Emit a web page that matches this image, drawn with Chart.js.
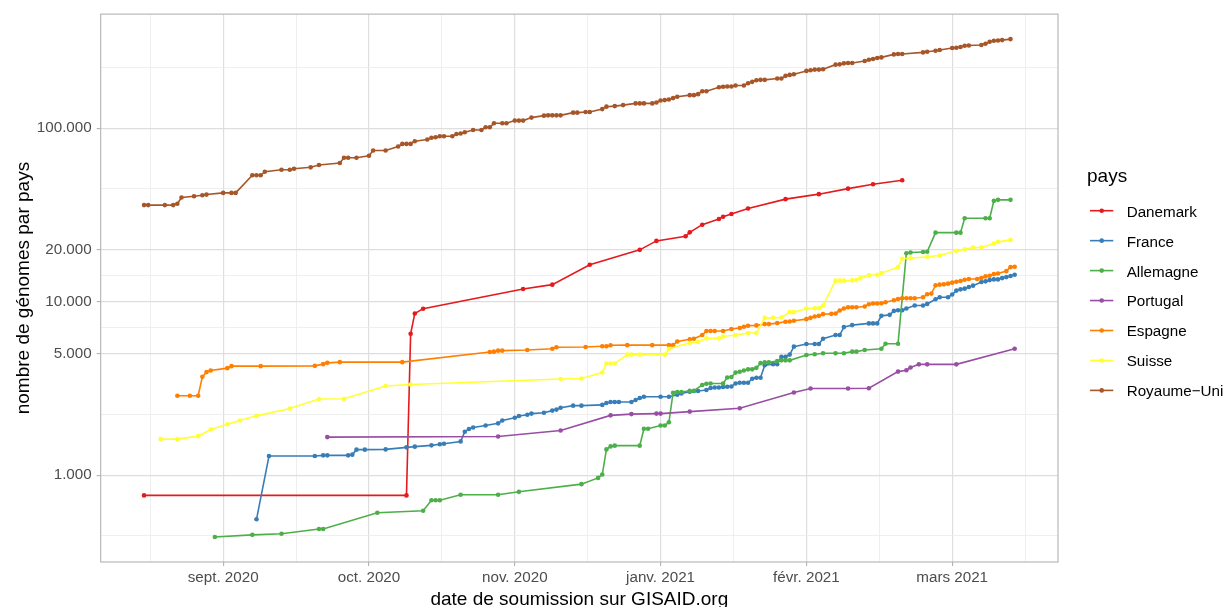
<!DOCTYPE html>
<html>
<head>
<meta charset="utf-8">
<script src="https://cdn.jsdelivr.net/npm/chart.js@4.4.1/dist/chart.umd.min.js"></script>
<style>
  html, body { margin: 0; padding: 0; background: #fff; }
  canvas { display: block; }
</style>
</head>
<body>
<canvas id="genomesChart" width="1225" height="607"></canvas>
<script>
// jours comptés depuis le repère "sept. 2020" de l'axe, nombres cumulés de génomes
const pays = ['Danemark', 'France', 'Allemagne', 'Portugal', 'Espagne', 'Suisse', 'Royaume\u2212Uni'];
const couleurs = ['#E41A1C', '#377EB8', '#4DAF4A', '#984EA3', '#FF7F00', '#FFFF33', '#A65628'];

const joursDanemark = [-19, 44, 45, 46, 48, 72, 79, 88, 100, 104, 111, 112, 115, 119, 120, 122, 126, 135, 143, 150, 156, 163];
const nbDanemark = [765, 765, 6540, 8560, 9120, 11840, 12550, 16340, 19910, 22420, 23840, 25120, 27810, 29990, 30900, 32020, 34470, 39030, 41700, 44880, 47580, 50140];

const joursFrance = [8, 11, 22, 24, 25, 30, 31, 32, 34, 39, 44, 46, 50, 52, 53, 57, 58, 59, 60, 63, 66, 67, 70, 71, 73, 74, 77, 79, 80, 81, 84, 86, 91, 92, 93, 94, 95, 98, 99, 100, 101, 105, 107, 109, 110, 112, 113, 114, 116, 117, 118, 119, 120, 121, 122, 123, 124, 125, 126, 127, 128, 129, 130, 132, 133, 134, 135, 136, 137, 140, 142, 143, 144, 147, 148, 149, 151, 155, 156, 157, 158, 160, 161, 162, 163, 164, 166, 168, 169, 171, 172, 174, 175, 176, 177, 178, 179, 180, 182, 183, 184, 185, 186, 187, 188, 189, 190];
const nbFrance = [557, 1290, 1290, 1302, 1302, 1302, 1314, 1404, 1404, 1409, 1447, 1461, 1486, 1509, 1519, 1566, 1782, 1847, 1884, 1934, 1991, 2066, 2144, 2193, 2231, 2266, 2290, 2357, 2389, 2446, 2518, 2518, 2542, 2610, 2645, 2645, 2645, 2645, 2715, 2788, 2836, 2836, 2836, 2912, 2962, 3029, 3058, 3058, 3098, 3181, 3206, 3206, 3223, 3236, 3249, 3381, 3412, 3412, 3412, 3597, 3645, 3645, 4310, 4367, 4367, 4808, 4808, 4956, 5508, 5706, 5706, 5706, 6120, 6427, 6427, 7143, 7334, 7501, 7501, 7501, 8291, 8401, 8857, 8939, 8939, 9142, 9511, 9511, 9714, 10330, 10610, 10610, 11000, 11590, 11790, 11900, 12150, 12380, 12990, 13110, 13330, 13450, 13450, 13690, 13870, 14060, 14320];

const joursAllemagne = [-2, 7, 14, 23, 24, 37, 48, 50, 51, 52, 57, 66, 71, 86, 90, 91, 92, 93, 94, 100, 101, 102, 105, 106, 107, 108, 109, 110, 112, 113, 115, 116, 117, 120, 121, 122, 123, 124, 125, 126, 127, 128, 129, 130, 131, 133, 134, 135, 136, 140, 142, 144, 147, 149, 151, 152, 154, 158, 159, 162, 164, 165, 168, 169, 171, 176, 177, 178, 183, 184, 185, 186, 189];
const nbAllemagne = [440, 453, 460, 490, 490, 608, 624, 717, 717, 717, 771, 771, 802, 888, 965, 1009, 1409, 1466, 1480, 1480, 1852, 1852, 1934, 1934, 2020, 2989, 3018, 3018, 3070, 3070, 3310, 3367, 3381, 3381, 3660, 3679, 3903, 3945, 4013, 4077, 4077, 4158, 4425, 4472, 4472, 4544, 4592, 4592, 4592, 4936, 4982, 5049, 5049, 5049, 5155, 5155, 5273, 5363, 5730, 5730, 19040, 19220, 19340, 19400, 25020, 25020, 25020, 30300, 30300, 30300, 38160, 38670, 38670];

const joursPortugal = [25, 66, 81, 93, 98, 104, 105, 112, 124, 137, 141, 150, 155, 162, 164, 165, 167, 169, 176, 190];
const nbPortugal = [1658, 1673, 1811, 2213, 2251, 2266, 2266, 2327, 2430, 2998, 3164, 3164, 3170, 3955, 4024, 4175, 4355, 4355, 4355, 5363];

const joursEspagne = [-11, -8, -6, -5, -4, -3, 1, 2, 9, 22, 24, 25, 28, 43, 64, 65, 66, 67, 73, 79, 80, 87, 91, 92, 93, 97, 103, 107, 108, 109, 112, 113, 115, 116, 117, 118, 120, 122, 124, 125, 126, 128, 130, 131, 133, 135, 136, 137, 140, 141, 142, 143, 144, 146, 147, 148, 149, 150, 151, 152, 154, 155, 156, 157, 158, 159, 161, 162, 163, 164, 165, 166, 168, 169, 170, 171, 172, 173, 174, 175, 176, 177, 178, 179, 181, 182, 183, 184, 185, 186, 188, 189, 190];
const nbEspagne = [2874, 2874, 2874, 3693, 3929, 4013, 4142, 4253, 4253, 4270, 4367, 4443, 4484, 4484, 5135, 5155, 5224, 5224, 5273, 5363, 5470, 5485, 5536, 5536, 5610, 5620, 5620, 5620, 5620, 5898, 6081, 6120, 6427, 6776, 6776, 6776, 6776, 6957, 7049, 7171, 7266, 7305, 7432, 7432, 7530, 7660, 7700, 7762, 7938, 8076, 8227, 8291, 8480, 8513, 8558, 8904, 9142, 9301, 9301, 9301, 9387, 9676, 9765, 9765, 9804, 9934, 10200, 10380, 10470, 10470, 10470, 10470, 10610, 11040, 11140, 12430, 12550, 12600, 12710, 12880, 13050, 13160, 13400, 13510, 13510, 13690, 14000, 14130, 14430, 14560, 15010, 15830, 15910];

const joursSuisse = [-15, -11, -6, -3, 1, 4, 8, 16, 23, 29, 39, 45, 81, 86, 91, 92, 93, 94, 97, 98, 100, 106, 107, 112, 114, 116, 119, 120, 123, 126, 128, 130, 132, 134, 136, 137, 140, 142, 143, 144, 147, 148, 149, 151, 152, 153, 155, 157, 158, 162, 163, 165, 169, 172, 176, 178, 180, 182, 185, 186, 189];
const nbSuisse = [1614, 1614, 1680, 1835, 1968, 2066, 2199, 2421, 2751, 2760, 3266, 3336, 3583, 3611, 3908, 4402, 4402, 4402, 4956, 4956, 4956, 4956, 5363, 5806, 5860, 6152, 6152, 6300, 6427, 6600, 6600, 8076, 8076, 8119, 8707, 8707, 9142, 9179, 9179, 9511, 13230, 13230, 13230, 13280, 13330, 13690, 14190, 14320, 14620, 15830, 17690, 17820, 18160, 18470, 19650, 20070, 20530, 20530, 21640, 22130, 22720];

const joursRoyaumeUni = [-19, -18, -14, -12, -11, -10, -7, -5, -4, 0, 2, 3, 7, 8, 9, 10, 14, 16, 17, 21, 23, 28, 29, 30, 32, 35, 36, 39, 42, 43, 44, 45, 46, 49, 50, 51, 52, 53, 55, 56, 57, 58, 60, 62, 63, 64, 65, 67, 68, 70, 71, 72, 74, 77, 78, 79, 80, 81, 84, 85, 87, 88, 91, 92, 94, 96, 99, 100, 101, 103, 104, 105, 106, 107, 108, 109, 112, 113, 114, 115, 116, 119, 120, 121, 122, 123, 125, 126, 127, 128, 129, 130, 133, 134, 135, 136, 137, 140, 141, 142, 143, 144, 147, 148, 149, 150, 151, 154, 155, 156, 157, 158, 161, 162, 163, 168, 169, 171, 172, 175, 176, 177, 178, 179, 182, 183, 184, 185, 186, 187, 189];
const nbRoyaumeUni = [36060, 36060, 36060, 36060, 36690, 39860, 40600, 41140, 41470, 42410, 42410, 42410, 53570, 53570, 53570, 56180, 57680, 57680, 58450, 59540, 61380, 63020, 67570, 67570, 67570, 69380, 74500, 74500, 78550, 81280, 81280, 81280, 84230, 86140, 88220, 88800, 89990, 89990, 89990, 92760, 93250, 94870, 97790, 97790, 101300, 101300, 106800, 106800, 106800, 110700, 110700, 110700, 115200, 118200, 118700, 118700, 118700, 118700, 123000, 123000, 124000, 124000, 129000, 133200, 134200, 136000, 139100, 139100, 139100, 139100, 140900, 144700, 145300, 146600, 149200, 152000, 155200, 155200, 157300, 163600, 163600, 172500, 173400, 174100, 174100, 176400, 176400, 181800, 185200, 189200, 190100, 190100, 193400, 193400, 200500, 203100, 204700, 214100, 215800, 217800, 217800, 218700, 232700, 233600, 236700, 237900, 237900, 244300, 248500, 250800, 254200, 256200, 266600, 268000, 268000, 273700, 276300, 279900, 282500, 290100, 291200, 293900, 299000, 300200, 301800, 306900, 315200, 319400, 320600, 322300, 326600];

// axes
const xTickJours = [0, 35, 70, 105, 140, 175];
const xTickLabels = ['sept. 2020', 'oct. 2020', 'nov. 2020', 'janv. 2021', 'févr. 2021', 'mars 2021'];
const yTickValeurs = [1000, 5000, 10000, 20000, 100000];
const yTickLabels = ['1.000', '5.000', '10.000', '20.000', '100.000'];
const yBreaksHors = [200, 500000]; // breaks hors cadre, seulement pour les lignes mineures

const police = "'Liberation Sans', Arial, Helvetica, sans-serif";

const series = [
  [joursDanemark, nbDanemark],
  [joursFrance, nbFrance],
  [joursAllemagne, nbAllemagne],
  [joursPortugal, nbPortugal],
  [joursEspagne, nbEspagne],
  [joursSuisse, nbSuisse],
  [joursRoyaumeUni, nbRoyaumeUni]
];

const datasets = series.map((s, i) => ({
  label: pays[i],
  data: s[0].map((j, k) => ({ x: j, y: s[1][k] })),
  borderColor: couleurs[i],
  backgroundColor: couleurs[i],
  pointBackgroundColor: couleurs[i],
  pointBorderWidth: 0,
  pointRadius: 2.3,
  pointHoverRadius: 2.3,
  borderWidth: 1.6,
  tension: 0,
  order: pays.length - 1 - i
}));

// lignes mineures = milieux des breaks (comme ggplot)
function ticksX() {
  const t = [];
  const pas = xTickJours[1] - xTickJours[0];
  t.push({ value: xTickJours[0] - pas / 2, principal: false });
  xTickJours.forEach(j => {
    t.push({ value: j, principal: true });
    t.push({ value: j + pas / 2, principal: false });
  });
  return t;
}

function ticksY() {
  const tous = [yBreaksHors[0], ...yTickValeurs, yBreaksHors[1]];
  const t = [];
  for (let i = 0; i < tous.length - 1; i++) {
    if (i > 0) t.push({ value: tous[i], principal: true });
    t.push({ value: Math.sqrt(tous[i] * tous[i + 1]), principal: false });
  }
  return t;
}

const grille = {
  color: ctx => (ctx.tick && ctx.tick.principal) ? '#dedede' : '#ebebeb',
  lineWidth: ctx => (ctx.tick && ctx.tick.principal) ? 1.2 : 0.8,
  tickColor: ctx => (ctx.tick && ctx.tick.principal) ? '#b3b3b3' : 'rgba(0,0,0,0)',
  tickLength: 4,
  tickWidth: 1.1,
  drawTicks: true
};

const habillage = {
  id: 'habillage',
  afterDatasetsDraw(chart) {
    const { ctx, chartArea: a } = chart;
    ctx.save();
    ctx.strokeStyle = '#b3b3b3';
    ctx.lineWidth = 1.1;
    ctx.strokeRect(a.left, a.top, a.right - a.left, a.bottom - a.top);
    ctx.restore();
  },
  afterDraw(chart) {
    const { ctx, chartArea: a } = chart;
    ctx.save();
    ctx.fillStyle = '#000';
    ctx.font = '19px ' + police;

    // titre axe x
    ctx.textAlign = 'center';
    ctx.textBaseline = 'alphabetic';
    ctx.fillText('date de soumission sur GISAID.org', (a.left + a.right) / 2, 605);

    // titre axe y
    ctx.save();
    ctx.translate(29, (a.top + a.bottom) / 2);
    ctx.rotate(-Math.PI / 2);
    ctx.fillText('nombre de génomes par pays', 0, 0);
    ctx.restore();

    // légende
    ctx.textAlign = 'left';
    ctx.fillText('pays', 1087, 182);
    ctx.font = '15.2px ' + police;
    pays.forEach((p, i) => {
      const y = 210.7 + i * 29.95;
      ctx.strokeStyle = couleurs[i];
      ctx.lineWidth = 1.6;
      ctx.beginPath();
      ctx.moveTo(1090, y);
      ctx.lineTo(1113.3, y);
      ctx.stroke();
      ctx.fillStyle = couleurs[i];
      ctx.beginPath();
      ctx.arc(1101.7, y, 2.3, 0, Math.PI * 2);
      ctx.fill();
      ctx.fillStyle = '#000';
      ctx.fillText(p, 1126.7, y + 5.9);
    });
    ctx.restore();
  }
};

new Chart(document.getElementById('genomesChart').getContext('2d'), {
  type: 'line',
  data: { datasets },
  options: {
    responsive: false,
    devicePixelRatio: 1,
    animation: false,
    layout: { padding: { left: 0, top: 11.7, right: 167, bottom: 0 } },
    plugins: {
      legend: { display: false },
      tooltip: { enabled: false }
    },
    scales: {
      x: {
        type: 'linear',
        bounds: 'data',
        min: -29.4,
        max: 200.4,
        grid: grille,
        border: { display: false },
        afterFit: s => { s.height = 45; },
        afterBuildTicks: s => { s.ticks = ticksX(); },
        ticks: {
          autoSkip: false,
          maxRotation: 0,
          padding: 3,
          color: '#4d4d4d',
          font: { family: police, size: 15.2 },
          callback: v => {
            const i = xTickJours.indexOf(v);
            return i >= 0 ? xTickLabels[i] : '';
          }
        }
      },
      y: {
        type: 'logarithmic',
        bounds: 'data',
        min: 316,
        max: 455000,
        grid: grille,
        border: { display: false },
        afterFit: s => { s.width = 100.7; },
        afterBuildTicks: s => { s.ticks = ticksY(); },
        ticks: {
          autoSkip: false,
          padding: 5,
          color: '#4d4d4d',
          font: { family: police, size: 15.2 },
          callback: v => {
            const i = yTickValeurs.indexOf(v);
            return i >= 0 ? yTickLabels[i] : '';
          }
        }
      }
    }
  },
  plugins: [habillage]
});
</script>
</body>
</html>
